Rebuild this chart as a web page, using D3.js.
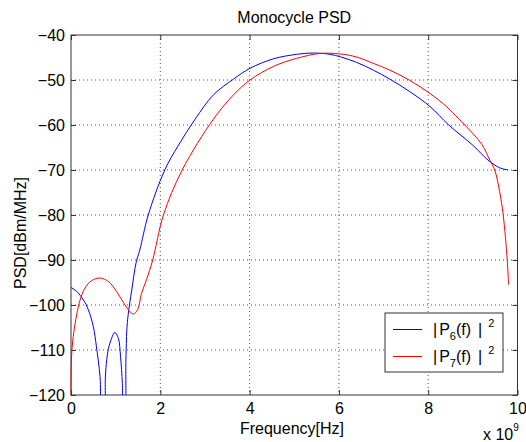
<!DOCTYPE html>
<html>
<head>
<meta charset="utf-8">
<script src="https://cdn.jsdelivr.net/npm/d3@7"></script>
<style>
body { margin: 0; background: #fff; }
text { font-family: Arial, "Liberation Sans", sans-serif; fill: #000; }
</style>
</head>
<body>
<div id="chart"></div>
<script>
// frequency in units of 1e9 Hz, PSD in dBm/MHz
const p6Freq = [0, 0.13, 0.28, 0.39, 0.5, 0.57, 0.65, 0.70, 0.74, 0.77, 0.80, 0.84, 0.91, 0.98, 1.06, 1.11, 1.15, 1.18, 1.20, 1.23, 1.25, 1.28, 1.36, 1.46, 1.54, 1.73, 2.10, 2.40, 2.78, 3.19, 3.64, 4.01, 4.53, 5.05, 5.43, 5.80, 6.05, 6.40, 6.77, 7.14, 7.59, 8.04, 8.46, 9.0, 9.34, 9.6, 9.79]
const p6Psd = [-96.1, -97.0, -98.9, -101.1, -104.8, -109.3, -115.9, -125, -125, -116, -112.2, -109.6, -107.4, -106.1, -107.4, -111.5, -117.4, -125, -125, -112, -105.6, -102.2, -96.7, -90.5, -87.8, -80, -70, -64.6, -58.7, -53.3, -49.8, -47.4, -45.3, -44.3, -44.0, -44.3, -44.9, -46.1, -47.8, -49.8, -52.6, -55.9, -60, -64.5, -67.8, -69.5, -70]

const p7Freq = [0, 0.01, 0.05, 0.13, 0.2, 0.31, 0.46, 0.65, 0.84, 1.02, 1.21, 1.32, 1.40, 1.49, 1.58, 1.69, 1.83, 2.07, 2.49, 3.19, 3.64, 4.01, 4.53, 5.05, 5.58, 6.02, 6.40, 6.77, 7.14, 7.59, 8.04, 8.41, 8.67, 8.82, 9.2, 9.38, 9.49, 9.6, 9.68, 9.77, 9.8]
const p7Psd = [-120, -112, -107, -102, -99, -96.3, -94.6, -94, -94.8, -97, -100, -101.5, -102, -101.1, -97.4, -94.4, -90, -80, -70, -58.7, -53.3, -50, -47.0, -45.2, -44.1, -44.2, -44.9, -46.3, -47.8, -50.1, -53.0, -55.9, -58.5, -60, -64.3, -67.8, -70, -74.8, -80, -90, -95.5]

const xTicks = [0, 2, 4, 6, 8, 10]
const yTicks = [-120, -110, -100, -90, -80, -70, -60, -50, -40]

const W = 526, H = 442
const pLeft = 71, pRight = 517.5, pTop = 35, pBottom = 395

let svg = d3.select('#chart')
.append('svg')
.attr('width', W)
.attr('height', H)

let x = d3.scaleLinear().domain([0, 10]).range([pLeft, pRight])
let y = d3.scaleLinear().domain([-120, -40]).range([pBottom, pTop])

// grid
svg.selectAll('.vgrid')
.data(xTicks.slice(1, -1))
.join('line')
.attr('class', 'vgrid')
.attr('x1', d => x(d)).attr('x2', d => x(d))
.attr('y1', pTop).attr('y2', pBottom)
.attr('stroke', '#555')
.attr('stroke-dasharray', '1,3')

svg.selectAll('.hgrid')
.data(yTicks.slice(1, -1))
.join('line')
.attr('class', 'hgrid')
.attr('y1', d => y(d)).attr('y2', d => y(d))
.attr('x1', pLeft).attr('x2', pRight)
.attr('stroke', '#555')
.attr('stroke-dasharray', '1,3')

// axes (ticks inside, MATLAB box)
function styleAxis(g) {
	g.select('.domain').remove()
	g.selectAll('line').attr('stroke', '#333')
	g.selectAll('text').style('font-size', '16px').attr('fill', '#000')
}

svg.append('g')
.attr('transform', `translate(0,${pBottom})`)
.call(d3.axisBottom(x).tickValues(xTicks).tickSizeInner(-5).tickSizeOuter(0).tickPadding(8))
.call(styleAxis)

svg.append('g')
.attr('transform', `translate(0,${pTop})`)
.call(d3.axisTop(x).tickValues(xTicks).tickSizeInner(-5).tickSizeOuter(0).tickFormat(''))
.call(styleAxis)

svg.append('g')
.attr('transform', `translate(${pLeft},0)`)
.call(d3.axisLeft(y).tickValues(yTicks).tickSizeInner(-5).tickSizeOuter(0).tickPadding(6))
.call(styleAxis)

svg.append('g')
.attr('transform', `translate(${pRight},0)`)
.call(d3.axisRight(y).tickValues(yTicks).tickSizeInner(-5).tickSizeOuter(0).tickFormat(''))
.call(styleAxis)

svg.append('rect')
.attr('x', pLeft).attr('y', pTop)
.attr('width', pRight - pLeft).attr('height', pBottom - pTop)
.attr('fill', 'none')
.attr('stroke', '#333')

// curves, drawn over the frame like MATLAB does
svg.append('clipPath').attr('id', 'clip')
.append('rect')
.attr('x', pLeft - 1).attr('y', pTop)
.attr('width', pRight - pLeft + 1).attr('height', pBottom - pTop)

let line = d3.line()
.x(d => x(d[0]))
.y(d => y(d[1]))
.curve(d3.curveCatmullRom.alpha(0.5))

const series = [
	{ pts: d3.zip(p6Freq, p6Psd), color: '#0000ff' },
	{ pts: d3.zip(p7Freq, p7Psd), color: '#ff0000' }
]

svg.append('g')
.attr('clip-path', 'url(#clip)')
.selectAll('path')
.data(series)
.join('path')
.attr('d', d => line(d.pts))
.attr('fill', 'none')
.style('stroke', d => d.color)
.attr('stroke-width', 1)

// labels
svg.append('text')
.attr('x', (pLeft + pRight) / 2).attr('y', 23)
.attr('text-anchor', 'middle')
.style('font-size', '16px')
.text('Monocycle PSD')

svg.append('text')
.attr('x', 292).attr('y', 434)
.attr('text-anchor', 'middle')
.style('font-size', '16px')
.text('Frequency[Hz]')

let exp = svg.append('text')
.attr('x', 483).attr('y', 440)
.style('font-size', '16px')
exp.append('tspan').text('x 10')
exp.append('tspan').attr('dy', -9).style('font-size', '10px').text('9')

svg.append('text')
.attr('transform', 'translate(26,233) rotate(-90)')
.attr('text-anchor', 'middle')
.style('font-size', '16px')
.text('PSD[dBm/MHz]')

// legend
let lg = svg.append('g')
lg.append('rect')
.attr('x', 385).attr('y', 313)
.attr('width', 118).attr('height', 59)
.attr('fill', '#fff')
.attr('stroke', '#333')

const legendItems = [
	{ sub: '6', color: '#0000ff', y: 335 },
	{ sub: '7', color: '#ff0000', y: 361.5 }
]

legendItems.forEach(d => {
	lg.append('line')
	.attr('x1', 393).attr('x2', 422)
	.attr('y1', Math.round(d.y - 6) + 0.5).attr('y2', Math.round(d.y - 6) + 0.5)
	.style('stroke', d.color)
	.style('stroke-width', 1)
	let t = lg.append('text')
	.attr('x', 433).attr('y', d.y)
	.style('font-size', '16px')
	t.append('tspan').text('|')
	t.append('tspan').attr('dx', 2).text('P')
	t.append('tspan').attr('dy', 5).style('font-size', '11px').text(d.sub)
	t.append('tspan').attr('dy', -5).text('(f)')
	t.append('tspan').attr('dx', 7).text('|')
	t.append('tspan').attr('dx', 6).attr('dy', -8).style('font-size', '11px').text('2')
})
</script>
</body>
</html>
